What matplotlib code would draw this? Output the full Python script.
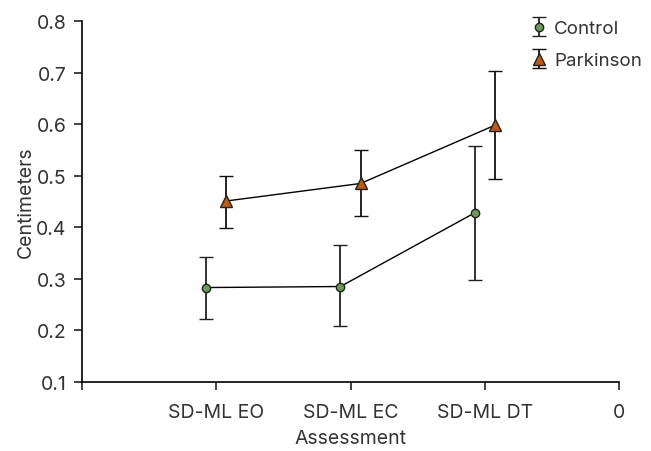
import matplotlib.pyplot as plt
import numpy as np

plt.rcParams['font.family'] = ['Inter', 'DejaVu Sans']

categories = ["SD-ML EO", "SD-ML EC", "SD-ML DT"]
control = [0.283, 0.285, 0.428]
control_err_low = [0.061, 0.076, 0.131]
control_err_high = [0.060, 0.081, 0.129]
parkinson = [0.451, 0.485, 0.598]
parkinson_err_low = [0.053, 0.064, 0.105]
parkinson_err_high = [0.049, 0.065, 0.106]

fig = plt.figure(figsize=(6.51, 4.52), dpi=100)
ax = fig.add_axes([0.126, 0.153, 0.825, 0.798])

x = np.arange(len(categories))
dodge = 0.075

# connecting lines
ax.plot(x - dodge, control, color='black', lw=1, zorder=2)
ax.plot(x + dodge, parkinson, color='black', lw=1, zorder=2)

ax.errorbar(x - dodge, control, yerr=[control_err_low, control_err_high],
            fmt='o', ecolor='#222222', elinewidth=1.3,
            capsize=5, capthick=1.3, markersize=6, markerfacecolor='#6b9a52',
            markeredgecolor='#222222', markeredgewidth=1, label='Control', zorder=3)
ax.errorbar(x + dodge, parkinson, yerr=[parkinson_err_low, parkinson_err_high],
            fmt='^', ecolor='#111111', elinewidth=1.3,
            capsize=5, capthick=1.3, markersize=8, markerfacecolor='#c05a0c',
            markeredgecolor='#222222', markeredgewidth=1, label='Parkinson', zorder=3)

ax.set_xlim(-1, 3)
ax.set_xticks([-1, 0, 1, 2, 3])
ax.set_xticklabels([""] + categories + ["0"])
ax.set_ylim(0.1, 0.8)
ax.set_yticks(np.arange(0.1, 0.81, 0.1))
ax.set_yticklabels([f"{v:.1f}" for v in np.arange(0.1, 0.81, 0.1)])

for s in ['top', 'right']:
    ax.spines[s].set_visible(False)
for s in ['left', 'bottom']:
    ax.spines[s].set_linewidth(1.2)
ax.tick_params(axis='both', labelsize=14, width=1.2, length=6, colors='#222222',
               labelcolor='#333333')
ax.tick_params(axis='x', pad=9)
ax.tick_params(axis='y', pad=5)

ax.set_xlabel("Assessment", fontsize=14, color='#333333', labelpad=6)
ax.set_ylabel("Centimeters", fontsize=14, color='#333333', labelpad=1)

ax.legend(loc='upper left', bbox_to_anchor=(0.805, 0.97), bbox_transform=fig.transFigure,
          frameon=False, fontsize=13.5, handlelength=0.8, handletextpad=0.4,
          borderaxespad=0, labelspacing=0.8, labelcolor='#333333')

fig.savefig("out.png", dpi=100)
